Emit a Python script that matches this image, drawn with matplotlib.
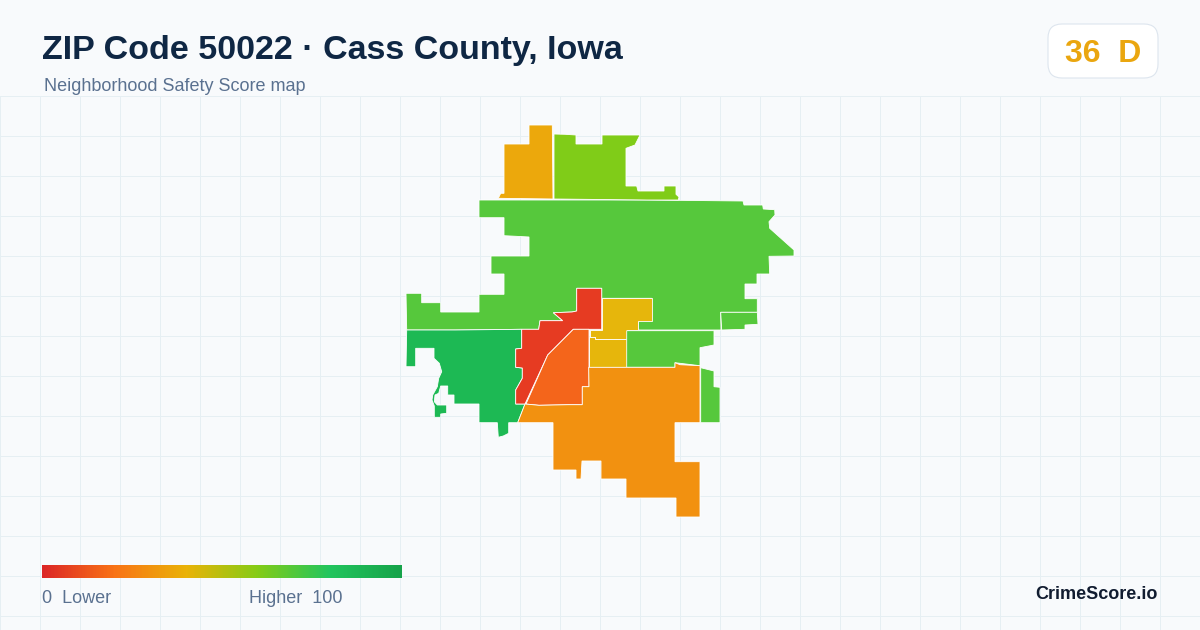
import matplotlib
matplotlib.use('Agg')
import matplotlib.pyplot as plt
import numpy as np
from matplotlib.colors import LinearSegmentedColormap
from matplotlib.patches import FancyBboxPatch, Polygon

# outlines of the neighborhoods (pixel coordinates)
main_north = [(479,200),(647,200),(743,201),(744,205),(762.7,205),(763.3,209),(774.7,209.7),(775,215),(769,221.7),
              (769.7,228.3),(794,250),(794,256),(769,256.3),(769.7,274),(757,274),(757,284),(745,284),(745,298.7),
              (757.3,298.7),(757.3,312.3),(720.7,312.3),(721,330),(714,330),(638.7,330),(638.3,320.7),(651.7,320.7),
              (651.7,298.3),(601.7,298.3),(601.7,288.3),(576.7,288.3),(576.7,311),(572,312),(553.3,312.7),(562.7,320.7),
              (540,320.7),(538.7,329.3),(521.7,329.3),(455,330),(406.7,330),(406,293.3),(421.7,293.3),(421.7,302.7),
              (440.7,302.7),(440.7,312),(479,312),(479,294.3),(504,294.3),(504,274),(491,274),(491,256),(529,256),
              (529,237),(516,236.3),(504,235.7),(504,217.7),(479,217.7)]
east_strip = [(720.7,312.3),(757.3,312.3),(758,324.3),(745,325),(745,329.3),(721.7,330)]
west = [(406.7,330),(455,330),(521.7,329.3),(521.7,348.3),(515.7,349),(515.7,367.3),(522.3,368),(522.3,378.3),
        (515.7,390),(515.7,404),(525,404),(517.7,422.7),(508.7,422.7),(508.7,433.3),(503.3,436),(498.3,437.3),
        (497.3,422.7),(479,422.7),(479,404),(454,404),(454,395),(447.7,395),(447.7,386),(440.7,386),(438.7,393.3),
        (435,395),(434.3,401.7),(437.3,405),(446.7,405),(446.7,413.3),(440.7,414),(440.7,417.3),(434.3,417.3),
        (434.3,406),(432,400),(432.7,395),(437.3,386.7),(438.7,378.3),(441.7,371.7),(439.3,363.3),(434,358.3),
        (434,348.3),(415.7,348.3),(415.7,366.7),(406,366.7)]
downtown = [(601.7,288.3),(576.7,288.3),(576.7,311),(572,312),(553.3,312.7),(562.7,320.7),(540,320.7),(538.7,329.3),
            (521.7,329.3),(521.7,348.3),(515.7,349),(515.7,367.3),(522.3,368),(522.3,378.3),(515.7,390),(515.7,404),
            (525,404),(547.7,355),(573.3,329.3),(589,329.3),(601.7,329.3)]
yellow_top = [(601.7,298.3),(651.7,298.3),(651.7,320.7),(638.3,320.7),(638.3,330),(626.7,330),(626.7,339.3),
              (594.7,339.3),(594.7,336.7),(589.7,336.7),(589.7,330),(601.7,330)]
yellow_low = [(589.3,336.7),(594.7,336.7),(594.7,339.3),(626.7,339.3),(626.7,367.3),(588.7,367.3)]
east_mid = [(626.7,330.7),(714,330.7),(714,345),(700,347.7),(700,365.7),(675,362.7),(675,367.3),(626.7,367.3)]
center = [(573.3,329.3),(589,329.3),(589,386.7),(582.3,386.7),(582.3,404.7),(568.3,404.7),(539,405.3),(526,404),(547.7,355)]
south = [(588.7,367.3),(626.7,367.3),(675,367.3),(675,362.7),(680,364.7),(700,365.7),(700,422.7),(675,422.7),
         (675,461.7),(700,461.7),(700,517),(676,517),(676,498),(626,498),(626,479),(601,479),(601,461),(582,461),
         (581,479),(576,479),(576,470),(553,470),(553,422.7),(517.7,422.7),(525,404),(539,405.3),(568.3,404.7),
         (582.3,404.7),(582.3,386.7),(589,386.7)]
east_small = [(700.7,367.7),(714,371),(714,386.7),(720,387.3),(720,422.7),(700.7,422.7)]
north_amber = [(504,144),(529,144),(529,125),(552.3,125),(553,199),(498.3,198.3),(500.7,193.3),(504,193.3)]
north_lime = [(554,134),(565,134.3),(576,135),(576,144),(602,144),(602,135),(640,135),(635,145),(626,148.3),(626,186),
              (636.7,186),(638,191),(664,191),(664,186),(676,186),(676,194.3),(679,197),(678.3,200),(647.3,200),(554,199)]

areas = [main_north, east_strip, west, downtown, yellow_top, yellow_low, east_mid, center, south, east_small,
         north_amber, north_lime]
area_colors = ['#56c83c', '#56c83c', '#1db954', '#e63b22', '#e6b60c', '#e6b60c', '#56c83c', '#f4651b', '#f29110',
               '#56c83c', '#eca80c', '#80cc18']

legend_stops = [0, 0.2, 0.4, 0.6, 0.8, 1]
legend_colors = ['#dc2626', '#f97316', '#eab308', '#84cc16', '#22c55e', '#16a34a']

title = 'ZIP Code 50022 · Cass County, Iowa'
subtitle = 'Neighborhood Safety Score map'
badge = '36  D'

plt.rcParams['font.family'] = ['Liberation Sans', 'DejaVu Sans']

fig = plt.figure(figsize=(12, 6.3), dpi=100, facecolor='#f8fafc')
ax = fig.add_axes([0, 0, 1, 1])
ax.set_xlim(0, 1200)
ax.set_ylim(630, 0)
ax.axis('off')

# background grid
for x in range(0, 1200, 40):
    ax.plot([x, x], [96, 630], color='#e6eff3', lw=0.72, zorder=1)
for y in range(96, 630, 40):
    ax.plot([0, 1200], [y, y], color='#e6eff3', lw=0.72, zorder=1)

# map
for pts, col in zip(areas, area_colors):
    ax.add_patch(Polygon(pts, closed=True, facecolor=col, edgecolor='white', lw=0.6, joinstyle='miter', zorder=2))

# header
ax.text(42, 59, title, fontsize=24.5, fontweight='bold', color='#0f2744', ha='left', va='baseline', zorder=5)
ax.text(44, 91, subtitle, fontsize=12.95, color='#5a7190', ha='left', va='baseline', zorder=5)

ax.add_patch(FancyBboxPatch((1060, 36), 86, 30, boxstyle='round,pad=12,rounding_size=14', mutation_aspect=1,
                            facecolor='white', edgecolor='#dde5ee', lw=0.8, zorder=4))
ax.text(1065, 62, badge, fontsize=23, fontweight='bold', color='#eaa60f', ha='left', va='baseline', zorder=5)

# legend
cmap = LinearSegmentedColormap.from_list('score', list(zip(legend_stops, legend_colors)))
ax.imshow(np.linspace(0, 1, 360).reshape(1, -1), cmap=cmap, extent=(42, 402, 578, 565), aspect='auto', zorder=3)
ax.set_xlim(0, 1200)
ax.set_ylim(630, 0)
ax.text(42, 603, '0  Lower', fontsize=12.95, color='#5a7190', ha='left', va='baseline', zorder=5)
ax.text(249, 603, 'Higher  100', fontsize=12.95, color='#5a7190', ha='left', va='baseline', zorder=5)
ax.text(1158, 599, 'CrimeScore.io', fontsize=13, fontweight='bold', color='#111c30', ha='right', va='baseline', zorder=5)

fig.savefig('out.png', dpi=100, facecolor=fig.get_facecolor())
